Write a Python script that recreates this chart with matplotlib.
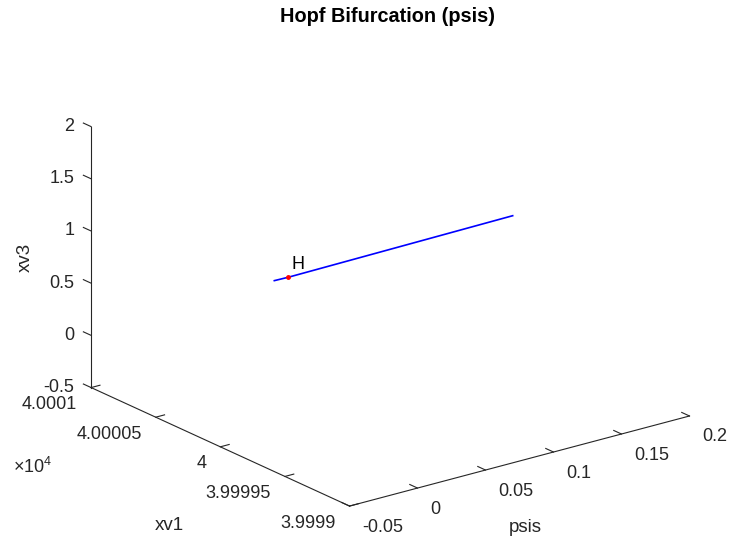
import matplotlib.pyplot as plt
import matplotlib.transforms as mtransforms
import numpy as np

# continuation branch (psis, xv1, xv3)
psis = [-0.0103, 0.0, 0.165]
xv1 = [40000.0, 40000.0, 40000.0]
xv3 = [0.955, 0.952, 0.972]
hopf_psis, hopf_xv1, hopf_xv3 = 0.0, 40000.0, 0.952

psis_ticks = [-0.05, 0.0, 0.05, 0.1, 0.15, 0.2]
psis_labels = ['-0.05', '0', '0.05', '0.1', '0.15', '0.2']
xv1_ticks = [3.9999, 3.99995, 4.0, 4.00005, 4.0001]   # x 10^4
xv1_labels = ['3.9999', '3.99995', '4', '4.00005', '4.0001']
xv3_ticks = [-0.5, 0.0, 0.5, 1.0, 1.5, 2.0]
xv3_labels = ['-0.5', '0', '0.5', '1', '1.5', '2']

plt.rcParams['font.family'] = ['Liberation Sans', 'DejaVu Sans']
plt.rcParams['mathtext.fontset'] = 'custom'
plt.rcParams['mathtext.rm'] = 'Liberation Sans'
grey = '#262626'

fig = plt.figure(figsize=(7.31, 5.48), dpi=100)
ax = fig.add_axes([-0.067, -0.100, 1.178, 1.178], projection='3d', proj_type='ortho')
ax.view_init(elev=20.4, azim=-127.24)
ax.set_box_aspect((1, 1, 0.652))
x0, x1 = psis_ticks[0], psis_ticks[-1]
y0, y1 = xv1_ticks[0] * 1e4, xv1_ticks[-1] * 1e4
z0, z1 = xv3_ticks[0], xv3_ticks[-1]
ax.set_xlim(x0, x1)
ax.set_ylim(y0, y1)
ax.set_zlim(z0, z1)
ax.set_axis_off()


def off(dx, dy):
    return mtransforms.offset_copy(ax.transData, fig=fig, x=dx, y=dy, units='dots')


# axis lines
ax.plot([x0, x1], [y0, y0], [z0, z0], color=grey, lw=0.8)
ax.plot([x0, x0], [y0, y1], [z0, z0], color=grey, lw=0.8)
ax.plot([x0, x0], [y1, y1], [z0, z1], color=grey, lw=0.8)

tx = 0.026 * (x1 - x0)
ty = 0.03 * (y1 - y0)

for t, s in zip(psis_ticks, psis_labels):
    ax.plot([t, t], [y0, y0 + ty], [z0, z0], color=grey, lw=0.8)
    ax.text(t, y0, z0, s, transform=off(13, -21), ha='left', va='center',
            fontsize=13, color=grey, clip_on=False)

for t, s in zip(xv1_ticks, xv1_labels):
    ax.plot([x0, x0 + tx], [t * 1e4, t * 1e4], [z0, z0], color=grey, lw=0.8)
    ax.text(x0, t * 1e4, z0, s, transform=off(-14, -17), ha='right', va='center',
            fontsize=13, color=grey, clip_on=False)

for t, s in zip(xv3_ticks, xv3_labels):
    ax.plot([x0, x0], [y1, y1 + ty], [t, t], color=grey, lw=0.8)
    ax.text(x0, y1, t, s, transform=off(-17, 0), ha='right', va='center',
            fontsize=13, color=grey, clip_on=False)

# data
ax.plot(psis, xv1, xv3, color='blue', lw=1.2)
ax.plot([hopf_psis], [hopf_xv1], [hopf_xv3], 'o', color='red', markersize=2.5)
ax.text(hopf_psis, hopf_xv1, hopf_xv3, 'H', transform=off(3, 4), ha='left',
        va='bottom', fontsize=13, color='black', clip_on=False)

W, H = 731, 548
fig.text(387 / W, 1 - 16 / H, 'Hopf Bifurcation (psis)', ha='center', va='center',
         fontsize=14.3, fontweight='bold', color='black')
fig.text(169 / W, 1 - 525 / H, 'xv1', ha='center', va='center', fontsize=13.5, color=grey)
fig.text(525 / W, 1 - 527 / H, 'psis', ha='center', va='center', fontsize=13.5, color=grey)
fig.text(25 / W, 1 - 257 / H, 'xv3', ha='center', va='center', rotation=90,
         fontsize=13.5, color=grey)
fig.text(13 / W, 1 - 467 / H, r'$\mathregular{\times 10^{4}}$', ha='left', va='center',
         fontsize=13, color=grey)

fig.savefig('out.png', dpi=100)
